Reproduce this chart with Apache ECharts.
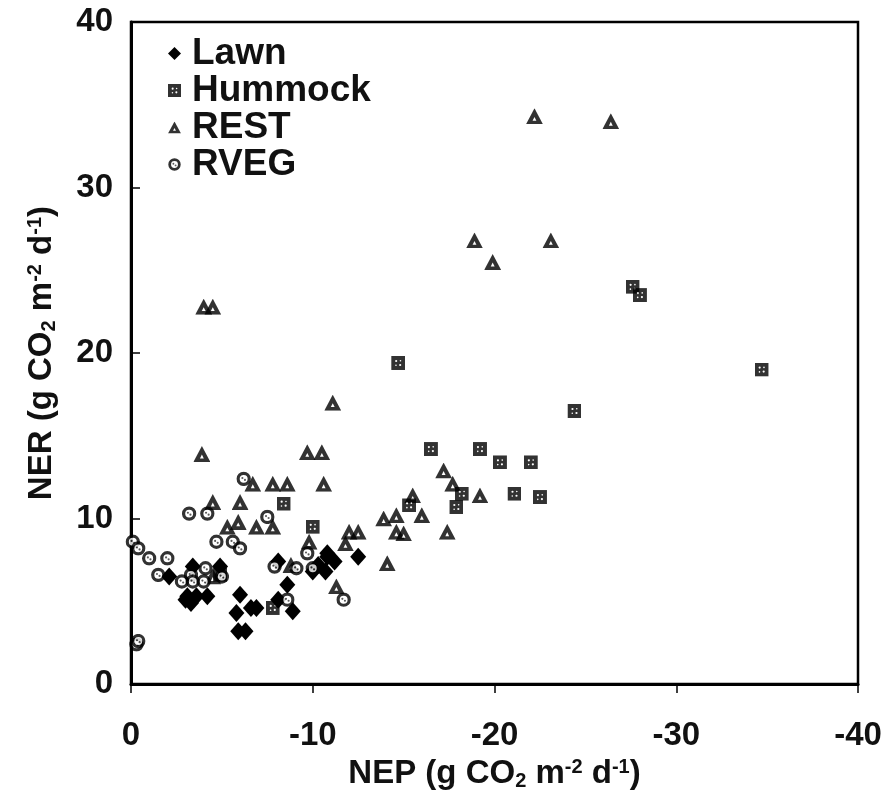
<!DOCTYPE html>
<html>
<head>
<meta charset="utf-8">
<script src="https://cdn.jsdelivr.net/npm/echarts@6/dist/echarts.min.js"></script>
<style>
  html, body { margin: 0; padding: 0; background: #fff; }
  #chart { width: 886px; height: 796px; }
</style>
</head>
<body>
<div id="chart"></div>
<script>
// NEP (x) vs NER (y), g CO2 m-2 d-1
var lawn = [
  [-2.1, 6.5], [-3.4, 7.1], [-4.9, 7.1], [-3.0, 5.1], [-3.1, 5.3], [-3.6, 5.3],
  [-4.2, 5.3], [-3.3, 4.9], [-6.0, 5.4], [-6.6, 4.6], [-6.9, 4.6], [-5.8, 4.3],
  [-5.9, 3.2], [-6.3, 3.2], [-8.1, 7.4], [-8.6, 6.0], [-8.1, 5.1], [-8.9, 4.4],
  [-10.3, 7.2], [-10.8, 7.7], [-10.0, 6.8], [-10.7, 6.8], [-11.2, 7.4], [-10.8, 7.9],
  [-12.5, 7.7]
];
var hummock = [
  [-4.9, 6.6], [-7.8, 4.6], [-8.4, 10.9], [-10.0, 9.5], [-14.7, 19.4], [-16.5, 14.2],
  [-19.2, 14.2], [-20.3, 13.4], [-22.0, 13.4], [-18.2, 11.5], [-21.1, 11.5], [-22.5, 11.3],
  [-17.9, 10.7], [-15.3, 10.8], [-24.4, 16.5], [-27.6, 24.0], [-28.0, 23.5], [-34.7, 19.0]
];
var rest = [
  [-22.2, 34.3], [-26.4, 34.0], [-18.9, 26.8], [-23.1, 26.8], [-19.9, 25.5], [-4.0, 22.8],
  [-4.5, 22.8], [-11.1, 17.0], [-3.9, 13.9], [-9.7, 14.0], [-10.5, 14.0], [-10.6, 12.1],
  [-6.7, 12.1], [-7.8, 12.1], [-8.6, 12.1], [-4.5, 11.0], [-6.0, 11.0], [-5.3, 9.5],
  [-5.9, 9.8], [-6.9, 9.5], [-7.8, 9.5], [-9.8, 8.6], [-8.8, 7.2], [-4.5, 6.5],
  [-17.2, 12.9], [-17.7, 12.1], [-19.2, 11.4], [-15.5, 11.4], [-16.0, 10.2], [-13.9, 10.0],
  [-14.6, 10.2], [-14.6, 9.2], [-15.0, 9.1], [-17.4, 9.2], [-12.0, 9.2], [-12.5, 9.2],
  [-11.8, 8.5], [-14.1, 7.3], [-11.3, 5.9]
];
var rveg = [
  [-0.1, 8.6], [-0.4, 8.2], [-1.0, 7.6], [-2.0, 7.6], [-3.2, 10.3], [-4.2, 10.3],
  [-4.7, 8.6], [-5.6, 8.6], [-6.0, 8.2], [-6.2, 12.4], [-7.5, 10.1], [-1.5, 6.6],
  [-3.3, 6.6], [-4.1, 7.0], [-5.0, 6.5], [-2.8, 6.2], [-3.4, 6.2], [-4.0, 6.2],
  [-7.9, 7.1], [-9.1, 7.0], [-9.7, 7.9], [-10.0, 7.0], [-8.6, 5.1], [-11.7, 5.1],
  [-0.3, 2.4], [-0.4, 2.6]
];
var seriesNames = ['Lawn', 'Hummock', 'REST', 'RVEG'];
var xTicks = { min: -40, max: 0, step: 10 };
var yTicks = { min: 0, max: 40, step: 10 };

function svgIcon(svg) {
  return 'image://data:image/svg+xml;charset=utf-8,' + encodeURIComponent(svg);
}
// drawn at 4x so the canvas scales them down crisply
var hummockIcon = svgIcon("<svg xmlns='http://www.w3.org/2000/svg' width='56' height='56' viewBox='0 0 14 14'><rect width='14' height='14' fill='#000'/><circle cx='5' cy='5' r='1.1' fill='#fff'/><circle cx='9' cy='9' r='1.1' fill='#fff'/><circle cx='9.3' cy='4.8' r='0.8' fill='#fff'/><circle cx='4.8' cy='9.3' r='0.8' fill='#fff'/></svg>");
var restIcon = svgIcon("<svg xmlns='http://www.w3.org/2000/svg' width='64' height='60' viewBox='0 0 16 15'><path d='M8 0L16 15H0Z' fill='#000'/><path d='M8 8L9.8 11.6H6.2Z' fill='#fff'/></svg>");
var rvegIcon = svgIcon("<svg xmlns='http://www.w3.org/2000/svg' width='56' height='56' viewBox='0 0 14 14'><circle cx='7' cy='7' r='5.2' fill='#fff' stroke='#000' stroke-width='3'/><circle cx='5.8' cy='6.2' r='1' fill='#333'/><circle cx='8.2' cy='8' r='1' fill='#333'/></svg>");

var font = "'Liberation Sans', Arial, sans-serif";
var titleRich = {
  sub: { fontSize: 20, fontWeight: 'bold', fontFamily: font, color: '#111', verticalAlign: 'bottom', padding: [12, 0, 0, 0] },
  sup: { fontSize: 20, fontWeight: 'bold', fontFamily: font, color: '#111', verticalAlign: 'top', padding: [0, 0, 14, 0] }
};

var chart = echarts.init(document.getElementById('chart'));
chart.setOption({
  backgroundColor: '#fff',
  animation: false,
  grid: { left: 131, right: 28, top: 22, bottom: 111, show: true, borderColor: '#000', borderWidth: 2.5 },
  legend: {
    orient: 'vertical', left: 163, top: 30, itemGap: 0, itemWidth: 13, itemHeight: 13,
    textStyle: { fontSize: 37, fontWeight: 'bold', fontFamily: font, color: '#111', padding: [0, 0, 0, 6] },
    data: [
      { name: seriesNames[0], icon: 'diamond' },
      { name: seriesNames[1], icon: hummockIcon },
      { name: seriesNames[2], icon: restIcon },
      { name: seriesNames[3], icon: rvegIcon }
    ]
  },
  xAxis: {
    type: 'value', min: xTicks.min, max: xTicks.max, interval: xTicks.step, inverse: true,
    name: 'NEP (g CO{sub|2} m{sup|-2} d{sup|-1})', nameLocation: 'middle', nameGap: 67,
    nameTextStyle: { fontSize: 33, fontWeight: 'bold', fontFamily: font, color: '#111', rich: titleRich },
    axisLine: { show: true, onZero: false, lineStyle: { color: '#000', width: 3 } },
    axisTick: { show: true, inside: false, length: 9, lineStyle: { color: '#000', width: 1.5 } },
    axisLabel: { fontSize: 33, fontWeight: 'bold', fontFamily: font, color: '#111', margin: 35 },
    splitLine: { show: false }
  },
  yAxis: {
    type: 'value', min: yTicks.min, max: yTicks.max, interval: yTicks.step,
    name: 'NER (g CO{sub|2} m{sup|-2} d{sup|-1})', nameLocation: 'middle', nameGap: 72, nameRotate: 90,
    nameTextStyle: { fontSize: 33, fontWeight: 'bold', fontFamily: font, color: '#111', rich: titleRich },
    axisLine: { show: true, onZero: false, lineStyle: { color: '#000', width: 3 } },
    axisTick: { show: true, inside: true, length: 9, lineStyle: { color: '#000', width: 1.5 } },
    axisLabel: { fontSize: 33, fontWeight: 'bold', fontFamily: font, color: '#111', margin: 18 },
    splitLine: { show: false }
  },
  series: [
    { name: seriesNames[0], type: 'scatter', data: lawn, symbol: 'diamond', symbolSize: [16, 18],
      itemStyle: { color: '#000', opacity: 1 }, z: 4 },
    { name: seriesNames[1], type: 'scatter', data: hummock, symbol: hummockIcon, symbolSize: 14, z: 3 },
    { name: seriesNames[2], type: 'scatter', data: rest, symbol: restIcon, symbolSize: [17, 16], z: 2 },
    { name: seriesNames[3], type: 'scatter', data: rveg, symbol: rvegIcon, symbolSize: 15, z: 5 }
  ]
});
</script>
</body>
</html>
